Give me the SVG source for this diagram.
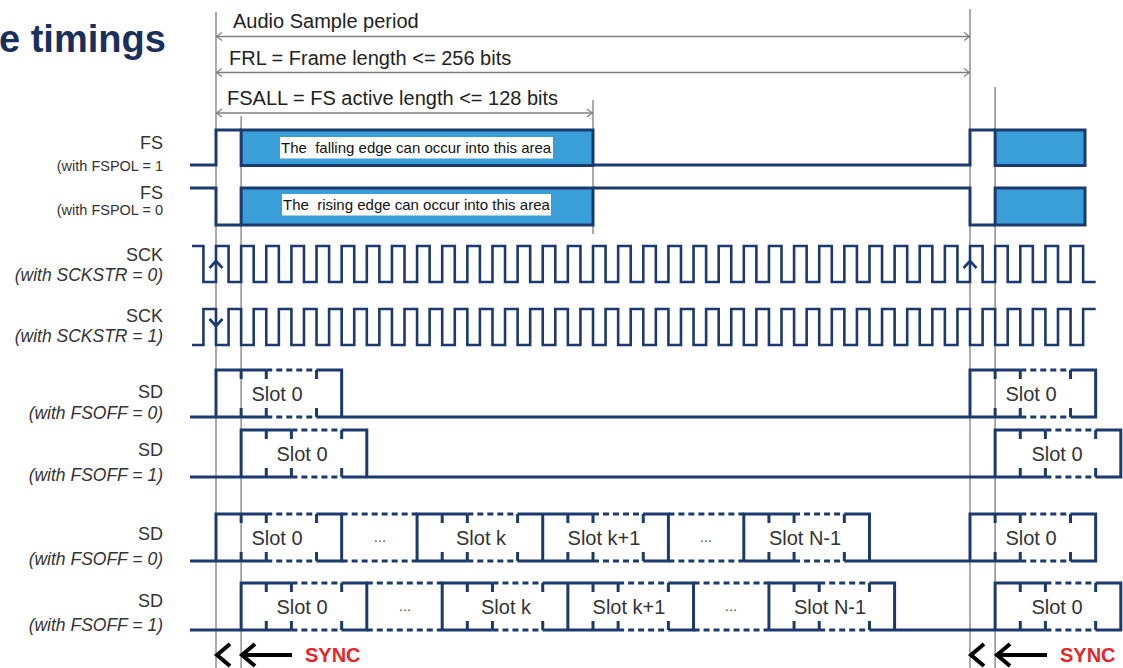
<svg xmlns="http://www.w3.org/2000/svg" xmlns:xlink="http://www.w3.org/1999/xlink" width="1123" height="668" viewBox="0 0 1123 668">
<style>
text{font-family:"Liberation Sans",Arial,sans-serif}
.w{fill:none;stroke:#1c3a6e;stroke-width:3;stroke-linejoin:miter}
.ck{fill:none;stroke:#1c3a6e;stroke-width:2.6;stroke-linejoin:miter}
.d{fill:none;stroke:#1c3a6e;stroke-width:3;stroke-dasharray:6 4}
.t{fill:none;stroke:#1c3a6e;stroke-width:3}
.g{fill:none;stroke:#7f7f7f;stroke-width:1.3}
.ah{fill:none;stroke:#7f7f7f;stroke-width:1.2}
.box{fill:#3a9fd9;stroke:#1c3a6e;stroke-width:3}
.nm{font-size:18px;fill:#333;text-anchor:end}
.sub{font-size:17.5px;fill:#333;text-anchor:end;font-style:italic}
.subn{font-size:14.5px;fill:#333;text-anchor:end}
.dim{font-size:20px;fill:#222}
.slot{font-size:20px;fill:#333;text-anchor:middle}
.dots{font-size:15px;fill:#555;text-anchor:middle}
.area{font-size:15px;fill:#111;white-space:pre}
.sync{font-size:20px;font-weight:bold;fill:#e5262b}
.sa{fill:none;stroke:#000;stroke-width:4;stroke-linejoin:miter}
</style>
<defs>
<path id="sckwave" class="ck" d="M192,246 H203.43 V282 H216
v-36h12.567v36h12.567 v-36h12.567v36h12.567 v-36h12.567v36h12.567 v-36h12.567v36h12.567 v-36h12.567v36h12.567
v-36h12.567v36h12.567 v-36h12.567v36h12.567 v-36h12.567v36h12.567 v-36h12.567v36h12.567 v-36h12.567v36h12.567
v-36h12.567v36h12.567 v-36h12.567v36h12.567 v-36h12.567v36h12.567 v-36h12.567v36h12.567 v-36h12.567v36h12.567
v-36h12.567v36h12.567 v-36h12.567v36h12.567 v-36h12.567v36h12.567 v-36h12.567v36h12.567 v-36h12.567v36h12.567
v-36h12.567v36h12.567 v-36h12.567v36h12.567 v-36h12.567v36h12.567 v-36h12.567v36h12.567 v-36h12.567v36h12.567
v-36h12.567v36h12.567 v-36h12.567v36h12.567 v-36h12.567v36h12.567 v-36h12.567v36h12.567 v-36h12.567v36h12.567
v-36h12.567v36h12.567 v-36h12.567v36h12.567 v-36h12.567v36h12.567 v-36h12.567v36h12.567 v-36h12.567v36h12.567"/>
</defs>

<text x="-1" y="52" style="font-size:38px;font-weight:bold;fill:#1b2f5c">e timings</text>

<g id="guides">
<path class="g" d="M216,12 V668 M241.13,116 V668 M593,100 V234 M970,9 V668 M995.13,87 V668"/>
</g>

<g id="connectors">
<g id="dim-audio">
<path class="g" d="M216,36.5 H970"/>
<path class="ah" d="M222,32.5 L216.5,36.5 L222,40.5 M964,32.5 L969.5,36.5 L964,40.5"/>
<text class="dim" x="233" y="28">Audio Sample period</text>
</g>
<g id="dim-frl">
<path class="g" d="M216,72.5 H970"/>
<path class="ah" d="M222,68.5 L216.5,72.5 L222,76.5 M964,68.5 L969.5,72.5 L964,76.5"/>
<text class="dim" x="229" y="65">FRL = Frame length &lt;= 256 bits</text>
</g>
<g id="dim-fsall">
<path class="g" d="M216,113 H593"/>
<path class="ah" d="M222,109 L216.5,113 L222,117 M587,109 L592.5,113 L587,117"/>
<text class="dim" x="227" y="105">FSALL = FS active length &lt;= 128 bits</text>
</g>
<g id="sync-left">
<path class="sa" d="M230,644 L217,655 L230,666 M255,644 L242,655 L255,666 M243,655 H292"/>
<text class="sync" x="305" y="662">SYNC</text>
</g>
<g id="sync-right">
<path class="sa" d="M984,644 L971,655 L984,666 M1010,644 L997,655 L1010,666 M998,655 H1047"/>
<text class="sync" x="1060" y="662">SYNC</text>
</g>
</g>

<g id="fs-pol1">
<text class="nm" x="163" y="149">FS</text>
<text class="subn" x="163" y="171">(with FSPOL = 1</text>
<path class="w" d="M190,165 H216 V130 H241.13 M593,165 H970 V130 H995.13"/>
<rect class="box" x="241.13" y="130" width="351.87" height="35.5"/>
<rect class="box" x="995.13" y="130" width="89.87" height="35.5"/>
<rect x="280" y="137" width="273" height="21.5" fill="#fff"/>
<text class="area" x="281" y="153">The  falling edge can occur into this area</text>
</g>

<g id="fs-pol0">
<text class="nm" x="163" y="199">FS</text>
<text class="subn" x="163" y="215">(with FSPOL = 0</text>
<path class="w" d="M190,188 H216 V225 H241.13 M593,188 H970 V225 H995.13"/>
<rect class="box" x="241.13" y="188" width="351.87" height="37"/>
<rect class="box" x="995.13" y="188" width="89.87" height="37"/>
<rect x="282" y="194" width="269" height="21.5" fill="#fff"/>
<text class="area" x="283" y="210">The  rising edge can occur into this area</text>
</g>

<g id="sck-str0">
<text class="nm" x="163" y="260.5">SCK</text>
<text class="sub" x="163" y="281">(with  SCKSTR = 0)</text>
<use xlink:href="#sckwave" href="#sckwave"/>
<path class="ck" d="M209.5,268 L216,261 L222.5,268 M963.5,268 L970,261 L976.5,268"/>
</g>

<g id="sck-str1">
<text class="nm" x="163" y="322">SCK</text>
<text class="sub" x="163" y="342">(with  SCKSTR = 1)</text>
<use xlink:href="#sckwave" href="#sckwave" transform="translate(0,591) scale(1,-1)"/>
<path class="ck" d="M209.5,319 L216,326 L222.5,319"/>
</g>

<g id="sd-off0-single">
<text class="nm" x="163" y="398">SD</text>
<text class="sub" x="163" y="419">(with  FSOFF = 0)</text>
<path class="w" d="M190,417 H266.27 M216,417 V370 H266.27 M316.53,370 H341.67 V417 M316.53,417 H1020.27 M970,417 V370 H1020.27 M1070.53,370 H1095.67 V417 H1070.53"/>
<path class="d" d="M266.27,370 H316.53 M266.27,417 H316.53 M1020.27,370 H1070.53 M1020.27,417 H1070.53"/>
<path class="t" d="M241.13,370 v9 M241.13,417 v-9 M266.27,370 v9 M266.27,417 v-9 M316.53,370 v9 M316.53,417 v-9 M995.13,370 v9 M995.13,417 v-9 M1020.27,370 v9 M1020.27,417 v-9 M1070.53,370 v9 M1070.53,417 v-9"/>
<text class="slot" x="277" y="401">Slot 0</text>
<text class="slot" x="1031" y="401">Slot 0</text>
</g>

<g id="sd-off1-single">
<text class="nm" x="163" y="456">SD</text>
<text class="sub" x="163" y="481">(with  FSOFF = 1)</text>
<path class="w" d="M190,477 H291.4 M241.13,477 V430 H291.4 M341.67,430 H366.8 V477 M341.67,477 H1045.4 M995.13,477 V430 H1045.4 M1095.67,430 H1120.8 V477 H1095.67"/>
<path class="d" d="M291.4,430 H341.67 M291.4,477 H341.67 M1045.4,430 H1095.67 M1045.4,477 H1095.67"/>
<path class="t" d="M266.27,430 v9 M266.27,477 v-9 M291.4,430 v9 M291.4,477 v-9 M341.67,430 v9 M341.67,477 v-9 M1020.27,430 v9 M1020.27,477 v-9 M1045.4,430 v9 M1045.4,477 v-9 M1095.67,430 v9 M1095.67,477 v-9"/>
<text class="slot" x="302" y="461">Slot 0</text>
<text class="slot" x="1057" y="461">Slot 0</text>
</g>

<g id="sd-off0-multi">
<text class="nm" x="163" y="540">SD</text>
<text class="sub" x="163" y="565">(with  FSOFF = 0)</text>
<path class="w" d="M190,561 H266.27 M216,561 V514 H266.27 M316.53,514 H341.67 V561 H316.53 M417.07,561 V514 H467.33 M417.07,561 H467.33 M517.6,514 H593 M517.6,561 H593 M542.73,514 V561 M643.27,514 H668.4 V561 H643.27 M743.8,561 V514 H794.07 M743.8,561 H794.07 M844.33,514 H869.47 V561 M844.33,561 H1020.27 M970,561 V514 H1020.27 M1070.53,514 H1095.67 V561 H1070.53"/>
<path class="d" d="M266.27,514 H316.53 M266.27,561 H316.53 M341.67,514 H417.07 M341.67,561 H417.07 M467.33,514 H517.6 M467.33,561 H517.6 M593,514 H643.27 M593,561 H643.27 M668.4,514 H743.8 M668.4,561 H743.8 M794.07,514 H844.33 M794.07,561 H844.33 M1020.27,514 H1070.53 M1020.27,561 H1070.53"/>
<path class="t" d="M241.13,514 v9 M241.13,561 v-9 M266.27,514 v9 M266.27,561 v-9 M316.53,514 v9 M316.53,561 v-9 M442.2,514 v9 M442.2,561 v-9 M467.33,514 v9 M467.33,561 v-9 M517.6,514 v9 M517.6,561 v-9 M567.87,514 v9 M567.87,561 v-9 M593,514 v9 M593,561 v-9 M643.27,514 v9 M643.27,561 v-9 M768.93,514 v9 M768.93,561 v-9 M794.07,514 v9 M794.07,561 v-9 M844.33,514 v9 M844.33,561 v-9 M995.13,514 v9 M995.13,561 v-9 M1020.27,514 v9 M1020.27,561 v-9 M1070.53,514 v9 M1070.53,561 v-9"/>
<text class="slot" x="277" y="545">Slot 0</text>
<text class="dots" x="380" y="542">...</text>
<text class="slot" x="481" y="545">Slot k</text>
<text class="slot" x="604" y="545">Slot k+1</text>
<text class="dots" x="706" y="542">...</text>
<text class="slot" x="805" y="545">Slot N-1</text>
<text class="slot" x="1031" y="545">Slot 0</text>
</g>

<g id="sd-off1-multi">
<text class="nm" x="163" y="607">SD</text>
<text class="sub" x="163" y="631">(with  FSOFF = 1)</text>
<path class="w" d="M190,630 H291.4 M241.13,630 V583 H291.4 M341.67,583 H366.8 V630 H341.67 M442.2,630 V583 H492.47 M442.2,630 H492.47 M542.73,583 H618.13 M542.73,630 H618.13 M567.87,583 V630 M668.4,583 H693.53 V630 H668.4 M768.93,630 V583 H819.2 M768.93,630 H819.2 M869.47,583 H894.6 V630 M869.47,630 H1045.4 M995.13,630 V583 H1045.4 M1095.67,583 H1120.8 V630 H1095.67"/>
<path class="d" d="M291.4,583 H341.67 M291.4,630 H341.67 M366.8,583 H442.2 M366.8,630 H442.2 M492.47,583 H542.73 M492.47,630 H542.73 M618.13,583 H668.4 M618.13,630 H668.4 M693.53,583 H768.93 M693.53,630 H768.93 M819.2,583 H869.47 M819.2,630 H869.47 M1045.4,583 H1095.67 M1045.4,630 H1095.67"/>
<path class="t" d="M266.27,583 v9 M266.27,630 v-9 M291.4,583 v9 M291.4,630 v-9 M341.67,583 v9 M341.67,630 v-9 M467.33,583 v9 M467.33,630 v-9 M492.47,583 v9 M492.47,630 v-9 M542.73,583 v9 M542.73,630 v-9 M593,583 v9 M593,630 v-9 M618.13,583 v9 M618.13,630 v-9 M668.4,583 v9 M668.4,630 v-9 M794.07,583 v9 M794.07,630 v-9 M819.2,583 v9 M819.2,630 v-9 M869.47,583 v9 M869.47,630 v-9 M1020.27,583 v9 M1020.27,630 v-9 M1045.4,583 v9 M1045.4,630 v-9 M1095.67,583 v9 M1095.67,630 v-9"/>
<text class="slot" x="302" y="614">Slot 0</text>
<text class="dots" x="405" y="611">...</text>
<text class="slot" x="506" y="614">Slot k</text>
<text class="slot" x="629" y="614">Slot k+1</text>
<text class="dots" x="731" y="611">...</text>
<text class="slot" x="830" y="614">Slot N-1</text>
<text class="slot" x="1057" y="614">Slot 0</text>
</g>
</svg>
